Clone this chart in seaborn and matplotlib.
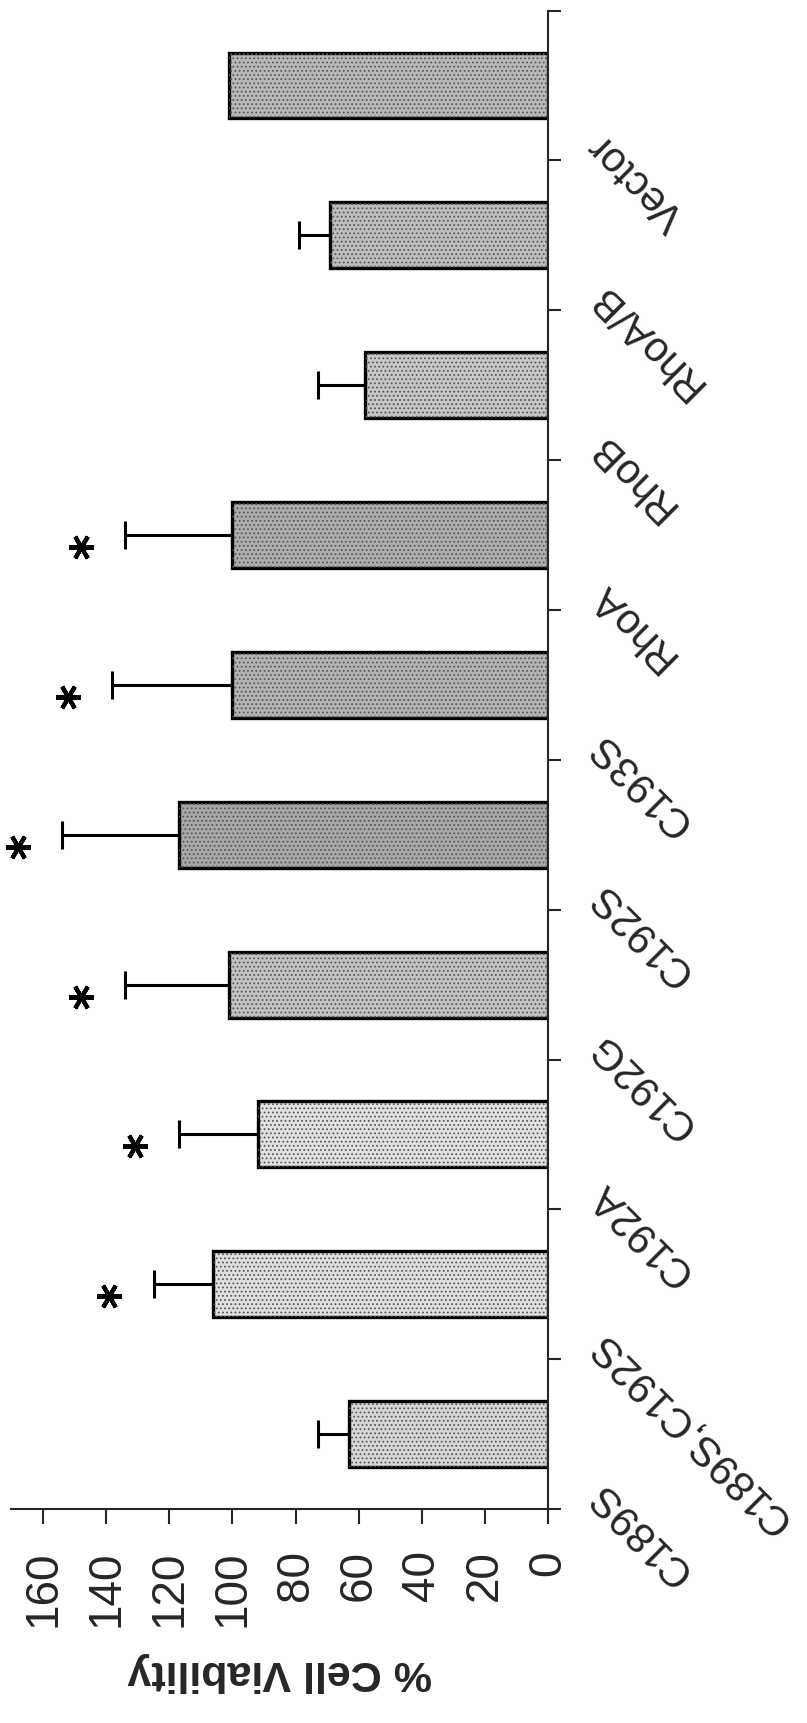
import numpy as np
import pandas as pd
import seaborn as sns
import matplotlib.pyplot as plt

# data (bottom to top in the rotated picture)
constructs = ['C189S', 'C189S,C192S', 'C192A', 'C192G', 'C192S',
              'C193S', 'RhoA', 'RhoB', 'RhoA/B', 'Vector']
viability = [63, 106, 92, 101, 117, 100, 100, 58, 69, 101]
sem = [10, 19, 25, 33, 37, 38, 34, 15, 10, np.nan]
significant = [False, True, True, True, True, True, True, False, False, False]
fill_gray = [0.84, 0.87, 0.88, 0.76, 0.66, 0.70, 0.68, 0.78, 0.74, 0.72]
value_ticks = [0, 20, 40, 60, 80, 100, 120, 140, 160]

df = pd.DataFrame({'construct': constructs, 'viability': viability})
palette = {c: str(g) for c, g in zip(constructs, fill_gray)}

sns.set_style('ticks')
plt.rcParams['font.family'] = ['Liberation Sans', 'DejaVu Sans']
plt.rcParams['hatch.linewidth'] = 0.8

fig = plt.figure(figsize=(8.07, 17.24), dpi=100)
ax = fig.add_axes([0.01425, 0.1241, 0.6648, 0.8692])

sns.barplot(data=df, x='viability', y='construct', hue='construct',
            palette=palette, order=constructs, hue_order=constructs,
            orient='h', width=0.44, edgecolor='black', linewidth=2.4,
            legend=False, ax=ax)
# stippled look of the printed bars
sns.barplot(data=df, x='viability', y='construct', order=constructs,
            orient='h', width=0.44, facecolor='none', edgecolor='0.35',
            hatch='....', linewidth=0, ax=ax)

# one-sided error bars (toward higher values)
pos = np.arange(len(constructs))
err = np.array(sem)
mask = ~np.isnan(err)
ax.errorbar(np.array(viability)[mask], pos[mask],
            xerr=[np.zeros(mask.sum()), err[mask]], fmt='none',
            ecolor='black', elinewidth=2.2, capsize=10, capthick=2.2, zorder=3)

# asterisks for significance
sig = np.array(significant)
star_x = (np.array(viability) + np.nan_to_num(err))[sig] + 14
ax.plot(star_x, pos[sig] - 0.08, linestyle='none', marker=(6, 2, 90),
        markersize=18, markeredgewidth=3, color='black', clip_on=False)

# axes: rotated layout, values run right to left, categories bottom to top
ax.set_xlim(170, 0)
ax.set_ylim(-0.5, len(constructs) - 0.5)

for side in ['top', 'left']:
    ax.spines[side].set_visible(False)
for side in ['right', 'bottom']:
    ax.spines[side].set_linewidth(1.5)

ax.yaxis.tick_right()
ax.set_yticks(np.arange(-0.5, len(constructs), 1))
ax.set_yticklabels([])
ax.tick_params(axis='y', length=9, width=1.5, direction='out')
ax.set_ylabel('')

ax.set_xticks(value_ticks)
ax.set_xticklabels([str(t) for t in value_ticks])
ax.tick_params(axis='x', length=11, width=1.5, direction='out', pad=18,
               labelsize=33, labelrotation=90)
ax.set_xlabel('% Cell Viability', fontsize=31, fontweight='bold',
              rotation=180, labelpad=18)

# category names, rotated like the rest of the figure
for i, name in enumerate(constructs):
    ax.text(-17.5, i - 0.3, name, fontsize=30, rotation=135,
            rotation_mode='anchor', ha='right', va='baseline', clip_on=False)

fig.savefig('out.png', dpi=100)
